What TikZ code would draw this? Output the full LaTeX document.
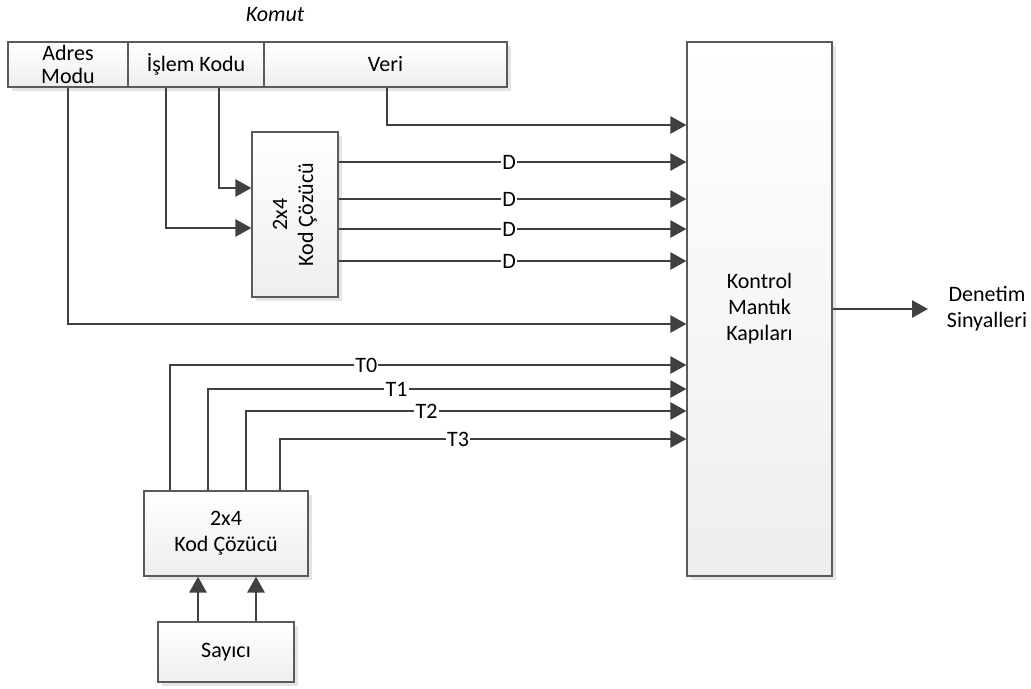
\documentclass[tikz,border=0pt]{standalone}
\usepackage{fontspec}
\setmainfont{Carlito}
\usepackage{graphicx}
\usetikzlibrary{arrows.meta,shadows,calc}

\definecolor{wirec}{HTML}{404040}
\definecolor{boxline}{HTML}{5A5A5A}
\definecolor{boxfill}{HTML}{EEEEEE}
\definecolor{shadowc}{HTML}{E4E4E4}
\newcommand{\fnt}{\fontsize{11}{13}\selectfont}

\tikzset{
  blok/.style={draw=boxline, line width=0.6pt, top color=white, bottom color=boxfill,
    inner sep=0pt, align=center, font=\fnt,
    drop shadow={shadow xshift=2pt, shadow yshift=-2pt, fill=shadowc, opacity=1}},
  wire/.style={draw=wirec, line width=1.4pt, -{Triangle[length=8pt,width=8.5pt]}},
  lbl/.style={fill=white, inner sep=0.6pt, font=\fnt}
}

\begin{document}
\begin{tikzpicture}[x=0.5pt,y=-0.5pt]
    \useasboundingbox (0,0) rectangle (1031,689);

    % komut kaydedicisi
    \node[font=\fnt\itshape] (komut) at (275,15) {Komut};
    \node[blok, minimum width=60pt, minimum height=22.5pt] (adres) at (68,64.5) {Adres\\[-1.5pt]Modu};
    \node[blok, minimum width=68pt, minimum height=22.5pt] (islem) at (196,64.5) {İşlem Kodu};
    \node[blok, minimum width=121.5pt, minimum height=22.5pt] (veri) at (385.5,64.5) {Veri};

    % kod cozuculer, sayici, kontrol
    \node[blok, minimum width=43pt, minimum height=82.5pt] (dec1) at (295,214.5)
        {\rotatebox{90}{\begin{tabular}{@{}c@{}}2x4\\Kod Çözücü\end{tabular}}};
    \node[blok, minimum width=82pt, minimum height=42.5pt] (dec2) at (226,533.5) {2x4\\Kod Çözücü};
    \node[blok, minimum width=68pt, minimum height=30pt] (sayac) at (226,652) {Sayıcı};
    \node[blok, minimum width=72.5pt, minimum height=267pt] (ctrl) at (759.5,309) {Kontrol\\Mantık\\Kapıları};
    \node[font=\fnt, align=center] (cikis) at (987,309) {Denetim\\Sinyalleri};
    \coordinate (outend) at (928,309);

    % giris seviyeleri
    \foreach \n/\y in {v/125, i1/188, i2/228, a/324}
        \coordinate (p\n) at (0,\y);

    % baglantilar
    \draw[wire] ([xshift=0.75pt]veri.south) |- (ctrl.west |- pv);
    \draw[wire] ([xshift=11.5pt]islem.south) |- (dec1.west |- pi1);
    \draw[wire] ([xshift=-15pt]islem.south) |- (dec1.west |- pi2);
    \draw[wire] (adres.south) |- (ctrl.west |- pa);

    \foreach \y in {162,199,229,261} {
        \coordinate (d) at (0,\y);
        \draw[wire] (dec1.east |- d) -- node[lbl, pos=0.49] {D} (ctrl.west |- d);
    }

    \foreach \dx/\y/\t/\p in {-28/365/T0/0.69, -9/389/T1/0.697, 10/411/T2/0.705, 27/439/T3/0.719} {
        \coordinate (t) at (0,\y);
        \draw[wire] ([xshift=\dx pt]dec2.north) |- node[lbl, pos=\p] {\t} (ctrl.west |- t);
    }

    \draw[wire] ([xshift=-14pt]sayac.north) -- ([xshift=-14pt]dec2.south);
    \draw[wire] ([xshift=15pt]sayac.north) -- ([xshift=15pt]dec2.south);

    \draw[wire] (ctrl.east) -- (outend);

\end{tikzpicture}
\end{document}
